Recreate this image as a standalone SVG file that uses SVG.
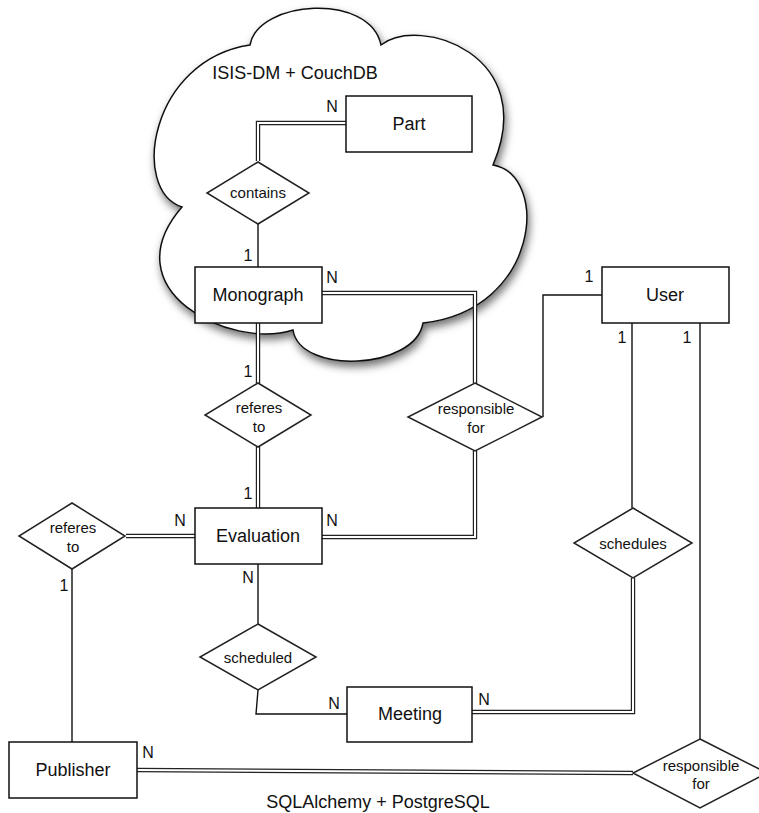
<svg xmlns="http://www.w3.org/2000/svg" width="759" height="813" viewBox="0 0 759 813">
<defs>
<filter id="shadow" x="-10%" y="-10%" width="125%" height="125%">
<feDropShadow dx="2" dy="5" stdDeviation="4" flood-color="#000" flood-opacity="0.55"/>
</filter>
<style>
text{font-family:"Liberation Sans",Arial,Helvetica,sans-serif;fill:#111;text-anchor:middle}
.ent{font-size:18px}
.rel{font-size:15px}
.card{font-size:16px}
.title{font-size:18px}
.box{fill:#fff;stroke:#111;stroke-width:1.5}
.dia{fill:#fff;stroke:#222;stroke-width:1.5}
.sgl{fill:none;stroke:#111;stroke-width:1.4}
.dbo{fill:none;stroke:#222;stroke-width:4.4}
.dbi{fill:none;stroke:#fff;stroke-width:2}
.cloud{fill:#fff;stroke:#111;stroke-width:1.5}
</style>
</defs>
<rect width="759" height="813" fill="#fff"/>
<g id="cloud">
<path class="cloud" filter="url(#shadow)" d="M250,45 C258,0 370,-8 381,45 C420,15 540,55 493,165 C550,175 540,310 423,323 C415,370 300,375 293,330 C230,350 110,290 182,207 C130,190 150,60 250,45 Z"/>
<text class="title" x="295" y="79">ISIS-DM + CouchDB</text>
</g>
<g id="connectors">
<g><path class="dbo" d="M346,123 H258 V161"/><path class="dbi" d="M346,123 H258 V161"/></g>
<path class="sgl" d="M258,224 V267"/>
<g><path class="dbo" d="M322,293 H475 V383"/><path class="dbi" d="M322,293 H475 V383"/></g>
<path class="sgl" d="M602,295 H543 V417"/>
<g><path class="dbo" d="M258,323 V383"/><path class="dbi" d="M258,323 V383"/></g>
<g><path class="dbo" d="M258,447 V508"/><path class="dbi" d="M258,447 V508"/></g>
<g><path class="dbo" d="M322,537 H475 V451"/><path class="dbi" d="M322,537 H475 V451"/></g>
<g><path class="dbo" d="M195,536 H126"/><path class="dbi" d="M195,536 H126"/></g>
<path class="sgl" d="M72,569 V742"/>
<path class="sgl" d="M258,564 V624"/>
<path class="sgl" d="M258,690 L256,714 H347"/>
<path class="sgl" d="M632,323 V508"/>
<g><path class="dbo" d="M633,578 V712 H472"/><path class="dbi" d="M633,578 V712 H472"/></g>
<path class="sgl" d="M700,323 V739"/>
<g><path class="dbo" d="M137,770 L633,773"/><path class="dbi" d="M137,770 L633,773"/></g>
<text class="card" x="332" y="112">N</text>
<text class="card" x="248" y="261">1</text>
<text class="card" x="332" y="283">N</text>
<text class="card" x="248" y="377">1</text>
<text class="card" x="248" y="499">1</text>
<text class="card" x="180" y="526">N</text>
<text class="card" x="332" y="526">N</text>
<text class="card" x="248" y="583">N</text>
<text class="card" x="64" y="591">1</text>
<text class="card" x="589" y="282">1</text>
<text class="card" x="622" y="343">1</text>
<text class="card" x="687" y="343">1</text>
<text class="card" x="334" y="709">N</text>
<text class="card" x="484" y="705">N</text>
<text class="card" x="148" y="758">N</text>
</g>
<g id="Part"><rect class="box" x="346" y="96" width="126" height="56"/><text class="ent" x="409" y="130">Part</text></g>
<g id="contains"><polygon class="dia" points="258,162 309,193 258,224 207,193"/><text class="rel" x="258" y="198">contains</text></g>
<g id="Monograph"><rect class="box" x="195" y="267" width="127" height="56"/><text class="ent" x="258" y="301">Monograph</text></g>
<g id="User"><rect class="box" x="602" y="267" width="127" height="56"/><text class="ent" x="665" y="301">User</text></g>
<g id="referes_to_top"><polygon class="dia" points="258,383 311,415 258,447 205,415"/><text class="rel" x="259" y="413">referes</text><text class="rel" x="259" y="432">to</text></g>
<g id="responsible_for_top"><polygon class="dia" points="475,383 542,417 475,451 408,417"/><text class="rel" x="476" y="414">responsible</text><text class="rel" x="476" y="433">for</text></g>
<g id="Evaluation"><rect class="box" x="195" y="508" width="127" height="56"/><text class="ent" x="258" y="542">Evaluation</text></g>
<g id="referes_to_left"><polygon class="dia" points="72,503 125,536 72,569 19,536"/><text class="rel" x="73" y="533">referes</text><text class="rel" x="73" y="552">to</text></g>
<g id="schedules"><polygon class="dia" points="633,508 692,543 633,578 574,543"/><text class="rel" x="633" y="549">schedules</text></g>
<g id="scheduled"><polygon class="dia" points="258,624 316,657 258,690 200,657"/><text class="rel" x="258" y="663">scheduled</text></g>
<g id="Meeting"><rect class="box" x="347" y="687" width="125" height="55"/><text class="ent" x="410" y="720">Meeting</text></g>
<g id="Publisher"><rect class="box" x="9" y="742" width="128" height="56"/><text class="ent" x="73" y="776">Publisher</text></g>
<g id="responsible_for_bottom"><polygon class="dia" points="700,739 767,773 700,808 633,773"/><text class="rel" x="701" y="771">responsible</text><text class="rel" x="701" y="789">for</text></g>
<text class="title" x="378" y="808">SQLAlchemy + PostgreSQL</text>
</svg>
